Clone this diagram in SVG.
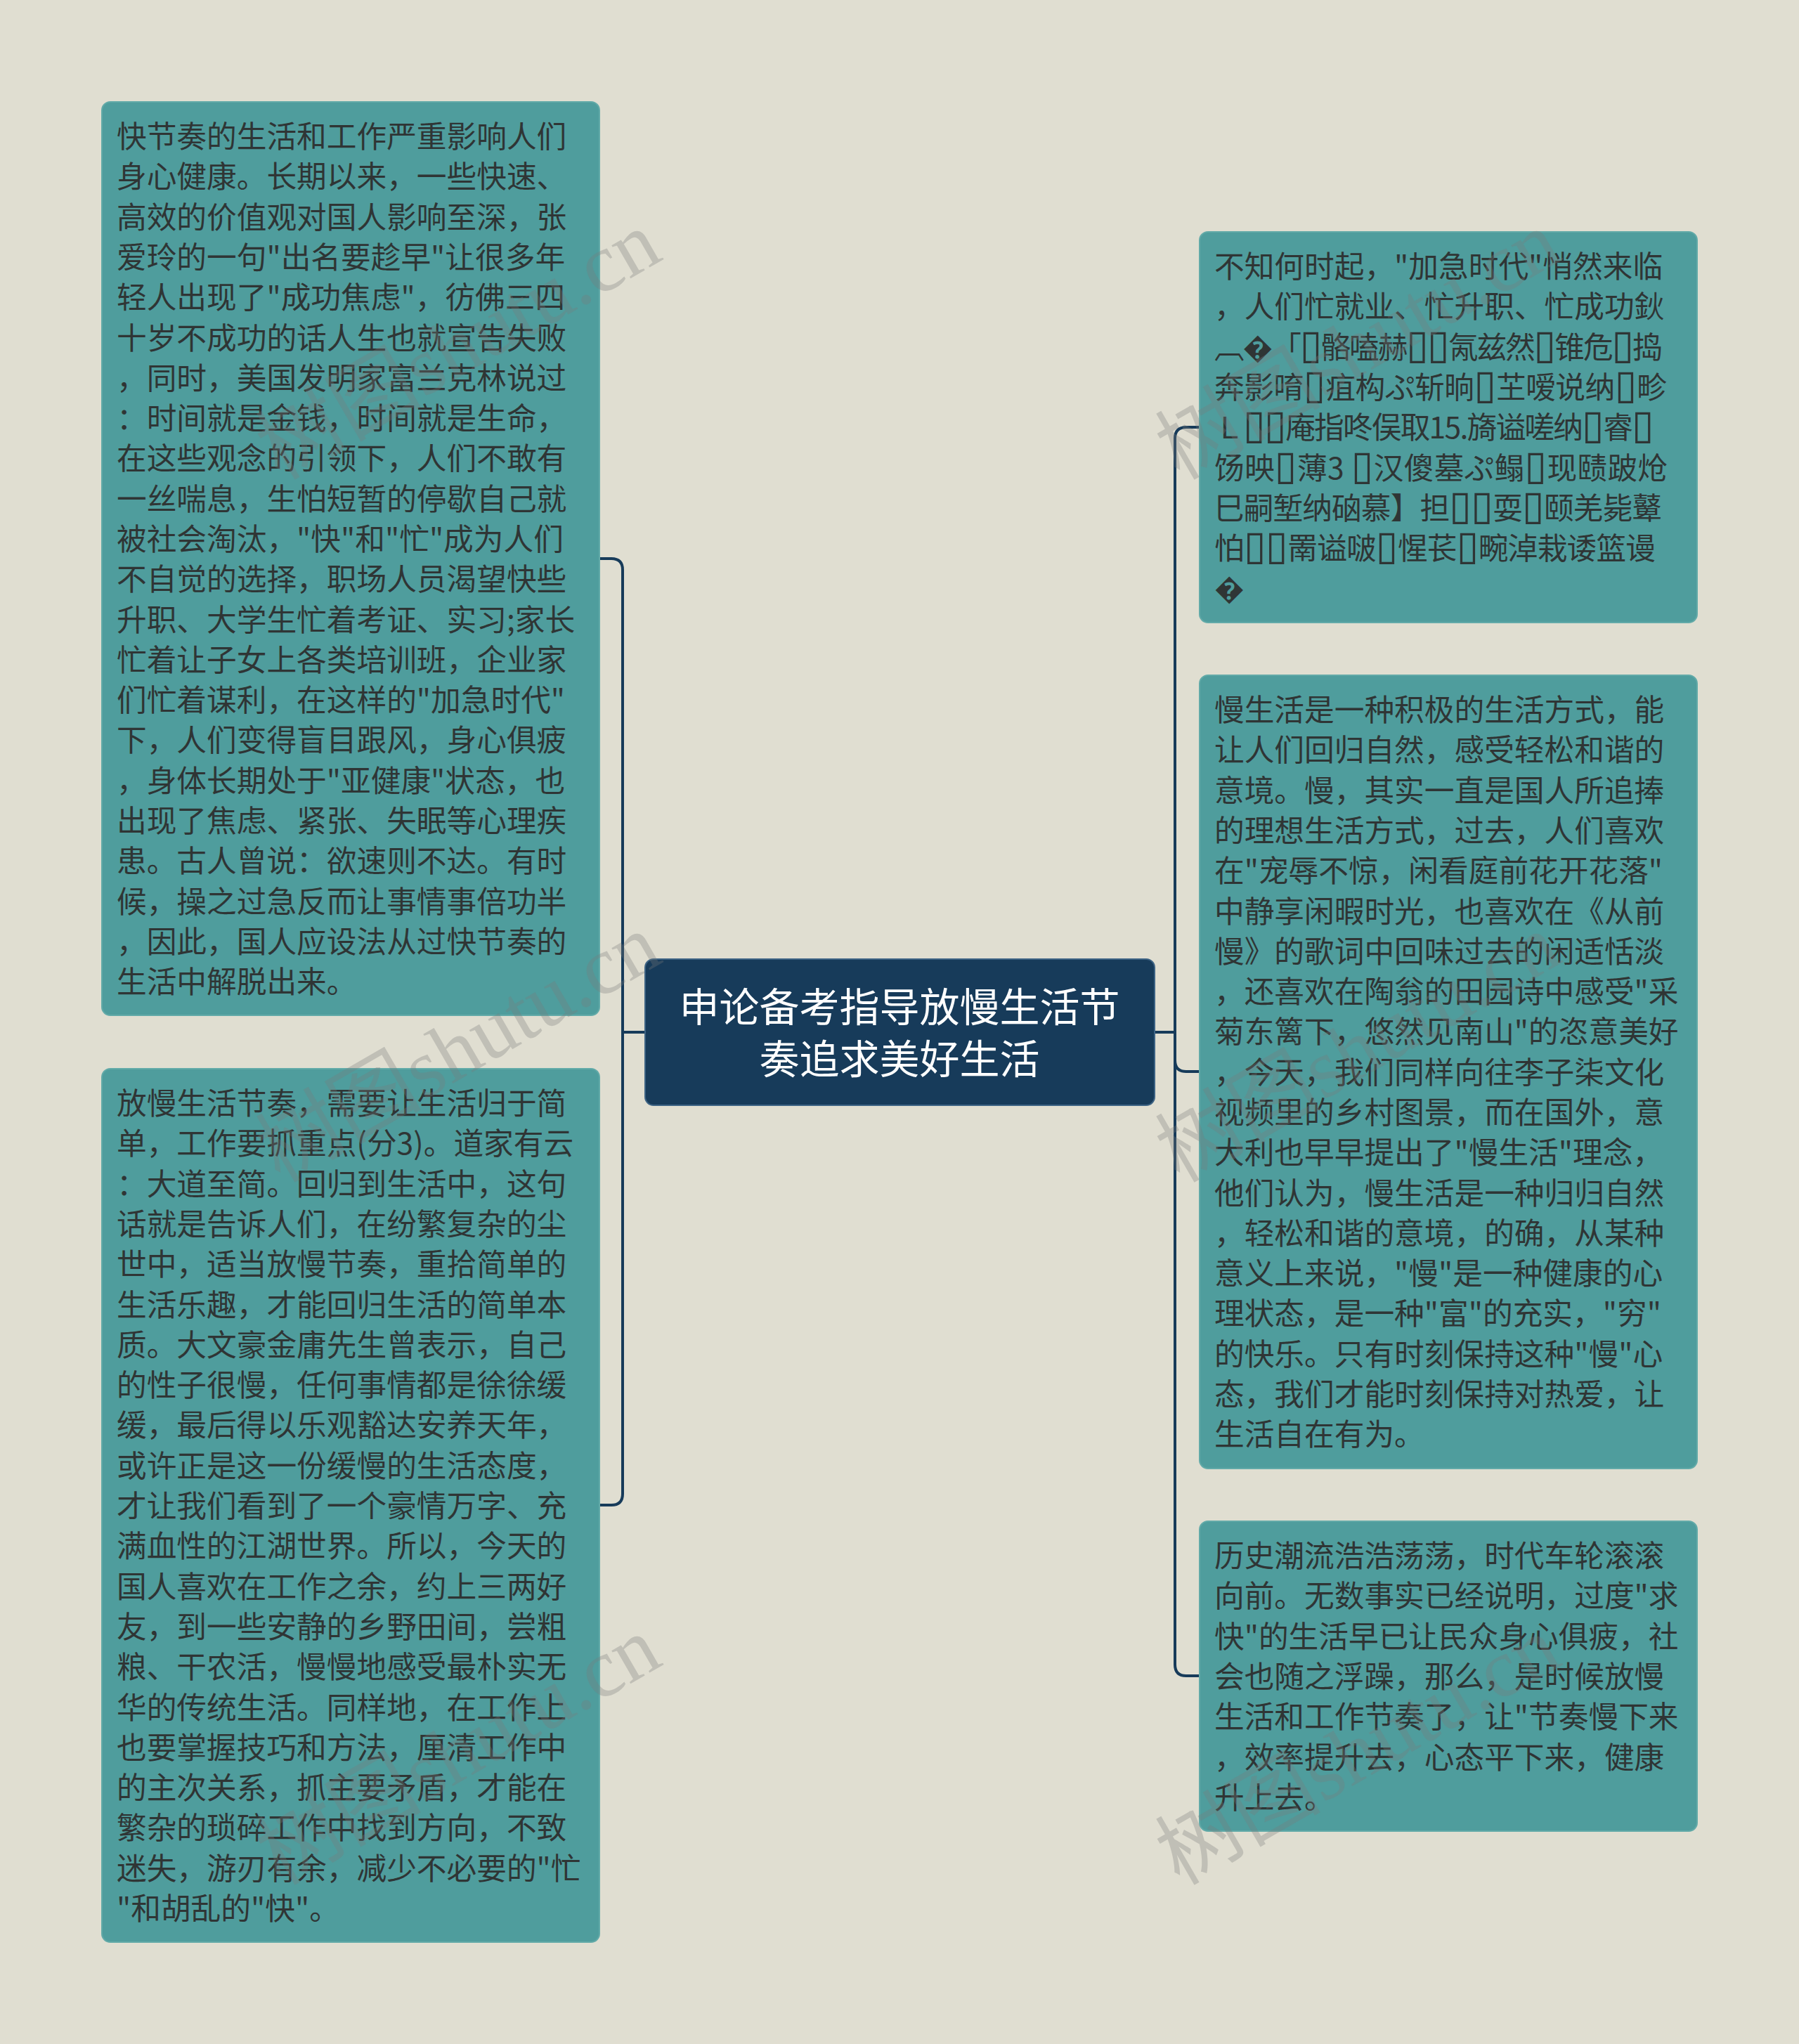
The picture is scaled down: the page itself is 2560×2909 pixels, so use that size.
<svg xmlns="http://www.w3.org/2000/svg" width="2560" height="2909" viewBox="0 0 2560 2909">
<style>
.bg{fill:#e0ded1}
.node{fill:#4f9d9d;stroke:#62aaa8;stroke-width:2}
.root{fill:#173b5a;stroke:#3d6384;stroke-width:2}
.t{font-family:"Noto Sans CJK SC","Noto Sans",sans-serif;font-size:42.7px;fill:#2f3535}
.rt{font-family:"Noto Sans CJK SC","Noto Sans",sans-serif;font-size:57px;fill:#ffffff;text-anchor:middle}
.tofu{font-family:"DejaVu Sans",sans-serif;font-size:58px}
.conn{fill:none;stroke:#173b5a;stroke-width:4}
.wm{font-family:"Liberation Serif","Noto Sans CJK SC",serif;font-size:118px;fill:#7a7a7a;opacity:0.3;text-anchor:end}
</style>
<rect class="bg" x="0" y="0" width="2560" height="2909"/>
<g id="connectors">
<path class="conn" d="M918,1469 H886 V811 Q886,795 870,795 H853"/>
<path class="conn" d="M918,1469 H886 V2126 Q886,2142 870,2142 H853"/>
<path class="conn" d="M1643,1469 H1672 V624 Q1672,608 1688,608 H1707"/>
<path class="conn" d="M1643,1469 H1672 V1509 Q1672,1525 1688,1525 H1707"/>
<path class="conn" d="M1643,1469 H1672 V2369 Q1672,2385 1688,2385 H1707"/>
</g>
<g id="root">
<rect class="root" x="918" y="1365" width="725" height="208" rx="12"/>
<text class="rt" x="1280" y="1454">申论备考指导放慢生活节</text>
<text class="rt" x="1280" y="1528">奏追求美好生活</text>
</g>
<g id="node-left-1">
<rect class="node" x="145" y="145" width="708" height="1300" rx="12"/>
<text class="t" x="166" y="210">
<tspan x="166" dy="0">快节奏的生活和工作严重影响人们</tspan>
<tspan x="166" dy="57.3">身心健康。长期以来，一些快速、</tspan>
<tspan x="166" dy="57.3">高效的价值观对国人影响至深，张</tspan>
<tspan x="166" dy="57.3">爱玲的一句"出名要趁早"让很多年</tspan>
<tspan x="166" dy="57.3">轻人出现了"成功焦虑"，彷佛三四</tspan>
<tspan x="166" dy="57.3">十岁不成功的话人生也就宣告失败</tspan>
<tspan x="166" dy="57.3">，同时，美国发明家富兰克林说过</tspan>
<tspan x="166" dy="57.3">：时间就是金钱，时间就是生命，</tspan>
<tspan x="166" dy="57.3">在这些观念的引领下，人们不敢有</tspan>
<tspan x="166" dy="57.3">一丝喘息，生怕短暂的停歇自己就</tspan>
<tspan x="166" dy="57.3">被社会淘汰，"快"和"忙"成为人们</tspan>
<tspan x="166" dy="57.3">不自觉的选择，职场人员渴望快些</tspan>
<tspan x="166" dy="57.3">升职、大学生忙着考证、实习;家长</tspan>
<tspan x="166" dy="57.3">忙着让子女上各类培训班，企业家</tspan>
<tspan x="166" dy="57.3">们忙着谋利，在这样的"加急时代"</tspan>
<tspan x="166" dy="57.3">下，人们变得盲目跟风，身心俱疲</tspan>
<tspan x="166" dy="57.3">，身体长期处于"亚健康"状态，也</tspan>
<tspan x="166" dy="57.3">出现了焦虑、紧张、失眠等心理疾</tspan>
<tspan x="166" dy="57.3">患。古人曾说：欲速则不达。有时</tspan>
<tspan x="166" dy="57.3">候，操之过急反而让事情事倍功半</tspan>
<tspan x="166" dy="57.3">，因此，国人应设法从过快节奏的</tspan>
<tspan x="166" dy="57.3">生活中解脱出来。</tspan>
</text>
</g>
<g id="node-left-2">
<rect class="node" x="145" y="1521" width="708" height="1243" rx="12"/>
<text class="t" x="166" y="1586">
<tspan x="166" dy="0">放慢生活节奏，需要让生活归于简</tspan>
<tspan x="166" dy="57.3">单，工作要抓重点(分3)。道家有云</tspan>
<tspan x="166" dy="57.3">：大道至简。回归到生活中，这句</tspan>
<tspan x="166" dy="57.3">话就是告诉人们，在纷繁复杂的尘</tspan>
<tspan x="166" dy="57.3">世中，适当放慢节奏，重拾简单的</tspan>
<tspan x="166" dy="57.3">生活乐趣，才能回归生活的简单本</tspan>
<tspan x="166" dy="57.3">质。大文豪金庸先生曾表示，自己</tspan>
<tspan x="166" dy="57.3">的性子很慢，任何事情都是徐徐缓</tspan>
<tspan x="166" dy="57.3">缓，最后得以乐观豁达安养天年，</tspan>
<tspan x="166" dy="57.3">或许正是这一份缓慢的生活态度，</tspan>
<tspan x="166" dy="57.3">才让我们看到了一个豪情万字、充</tspan>
<tspan x="166" dy="57.3">满血性的江湖世界。所以，今天的</tspan>
<tspan x="166" dy="57.3">国人喜欢在工作之余，约上三两好</tspan>
<tspan x="166" dy="57.3">友，到一些安静的乡野田间，尝粗</tspan>
<tspan x="166" dy="57.3">粮、干农活，慢慢地感受最朴实无</tspan>
<tspan x="166" dy="57.3">华的传统生活。同样地，在工作上</tspan>
<tspan x="166" dy="57.3">也要掌握技巧和方法，厘清工作中</tspan>
<tspan x="166" dy="57.3">的主次关系，抓主要矛盾，才能在</tspan>
<tspan x="166" dy="57.3">繁杂的琐碎工作中找到方向，不致</tspan>
<tspan x="166" dy="57.3">迷失，游刃有余，减少不必要的"忙</tspan>
<tspan x="166" dy="57.3">"和胡乱的"快"。</tspan>
</text>
</g>
<g id="node-right-1">
<rect class="node" x="1707" y="330" width="708" height="556" rx="12"/>
<text class="t" x="1728" y="395">
<tspan x="1728" dy="0">不知何时起，"加急时代"悄然来临</tspan>
<tspan x="1728" dy="57.3">，人们忙就业、忙升职、忙成功鈥</tspan>
<tspan x="1728" dy="57.3" textLength="638" lengthAdjust="spacing">︹�「<tspan class="tofu">▯</tspan>骼嗑赫<tspan class="tofu">▯▯</tspan>氝兹然<tspan class="tofu">▯</tspan>锥危<tspan class="tofu">▯</tspan>捣</tspan>
<tspan x="1728" dy="57.3" textLength="644" lengthAdjust="spacing">奔影唷<tspan class="tofu">▯</tspan>疽构ぷ斩晌<tspan class="tofu">▯</tspan>芏嗳说纳<tspan class="tofu">▯</tspan>畛</tspan>
<tspan x="1728" dy="57.3" textLength="626" lengthAdjust="spacing">Ｌ<tspan class="tofu">▯▯</tspan>庵指咚俣取15.旖谥嗟纳<tspan class="tofu">▯</tspan>睿<tspan class="tofu">▯</tspan></tspan>
<tspan x="1728" dy="57.3" textLength="645" lengthAdjust="spacing">饧映<tspan class="tofu">▯</tspan>薄3 <tspan class="tofu">▯</tspan>汉傻墓ぷ鳎<tspan class="tofu">▯</tspan>现赜跛炝</tspan>
<tspan x="1728" dy="57.3" textLength="637" lengthAdjust="spacing">巳嗣堑纳硇慕】担<tspan class="tofu">▯▯</tspan>耍<tspan class="tofu">▯</tspan>颐羌毙鼙</tspan>
<tspan x="1728" dy="57.3" textLength="628" lengthAdjust="spacing">怕<tspan class="tofu">▯▯</tspan>罱谥啵<tspan class="tofu">▯</tspan>惺苌<tspan class="tofu">▯</tspan>畹淖栽诿篮谩</tspan>
<tspan x="1728" dy="57.3">�</tspan>
</text>
</g>
<g id="node-right-2">
<rect class="node" x="1707" y="961" width="708" height="1129" rx="12"/>
<text class="t" x="1728" y="1026">
<tspan x="1728" dy="0">慢生活是一种积极的生活方式，能</tspan>
<tspan x="1728" dy="57.3">让人们回归自然，感受轻松和谐的</tspan>
<tspan x="1728" dy="57.3">意境。慢，其实一直是国人所追捧</tspan>
<tspan x="1728" dy="57.3">的理想生活方式，过去，人们喜欢</tspan>
<tspan x="1728" dy="57.3">在"宠辱不惊，闲看庭前花开花落"</tspan>
<tspan x="1728" dy="57.3">中静享闲暇时光，也喜欢在《从前</tspan>
<tspan x="1728" dy="57.3">慢》的歌词中回味过去的闲适恬淡</tspan>
<tspan x="1728" dy="57.3">，还喜欢在陶翁的田园诗中感受"采</tspan>
<tspan x="1728" dy="57.3">菊东篱下，悠然见南山"的恣意美好</tspan>
<tspan x="1728" dy="57.3">，今天，我们同样向往李子柒文化</tspan>
<tspan x="1728" dy="57.3">视频里的乡村图景，而在国外，意</tspan>
<tspan x="1728" dy="57.3">大利也早早提出了"慢生活"理念，</tspan>
<tspan x="1728" dy="57.3">他们认为，慢生活是一种归归自然</tspan>
<tspan x="1728" dy="57.3">，轻松和谐的意境，的确，从某种</tspan>
<tspan x="1728" dy="57.3">意义上来说，"慢"是一种健康的心</tspan>
<tspan x="1728" dy="57.3">理状态，是一种"富"的充实，"穷"</tspan>
<tspan x="1728" dy="57.3">的快乐。只有时刻保持这种"慢"心</tspan>
<tspan x="1728" dy="57.3">态，我们才能时刻保持对热爱，让</tspan>
<tspan x="1728" dy="57.3">生活自在有为。</tspan>
</text>
</g>
<g id="node-right-3">
<rect class="node" x="1707" y="2165" width="708" height="441" rx="12"/>
<text class="t" x="1728" y="2230">
<tspan x="1728" dy="0">历史潮流浩浩荡荡，时代车轮滚滚</tspan>
<tspan x="1728" dy="57.3">向前。无数事实已经说明，过度"求</tspan>
<tspan x="1728" dy="57.3">快"的生活早已让民众身心俱疲，社</tspan>
<tspan x="1728" dy="57.3">会也随之浮躁，那么，是时候放慢</tspan>
<tspan x="1728" dy="57.3">生活和工作节奏了，让"节奏慢下来</tspan>
<tspan x="1728" dy="57.3">，效率提升去，心态平下来，健康</tspan>
<tspan x="1728" dy="57.3">升上去。</tspan>
</text>
</g>
<g id="watermarks">
<text class="wm" transform="translate(946,368) rotate(-30)">树图shutu.cn</text>
<text class="wm" transform="translate(2226,368) rotate(-30)">树图shutu.cn</text>
<text class="wm" transform="translate(946,1368) rotate(-30)">树图shutu.cn</text>
<text class="wm" transform="translate(2226,1368) rotate(-30)">树图shutu.cn</text>
<text class="wm" transform="translate(946,2368) rotate(-30)">树图shutu.cn</text>
<text class="wm" transform="translate(2226,2368) rotate(-30)">树图shutu.cn</text>
</g>
</svg>
